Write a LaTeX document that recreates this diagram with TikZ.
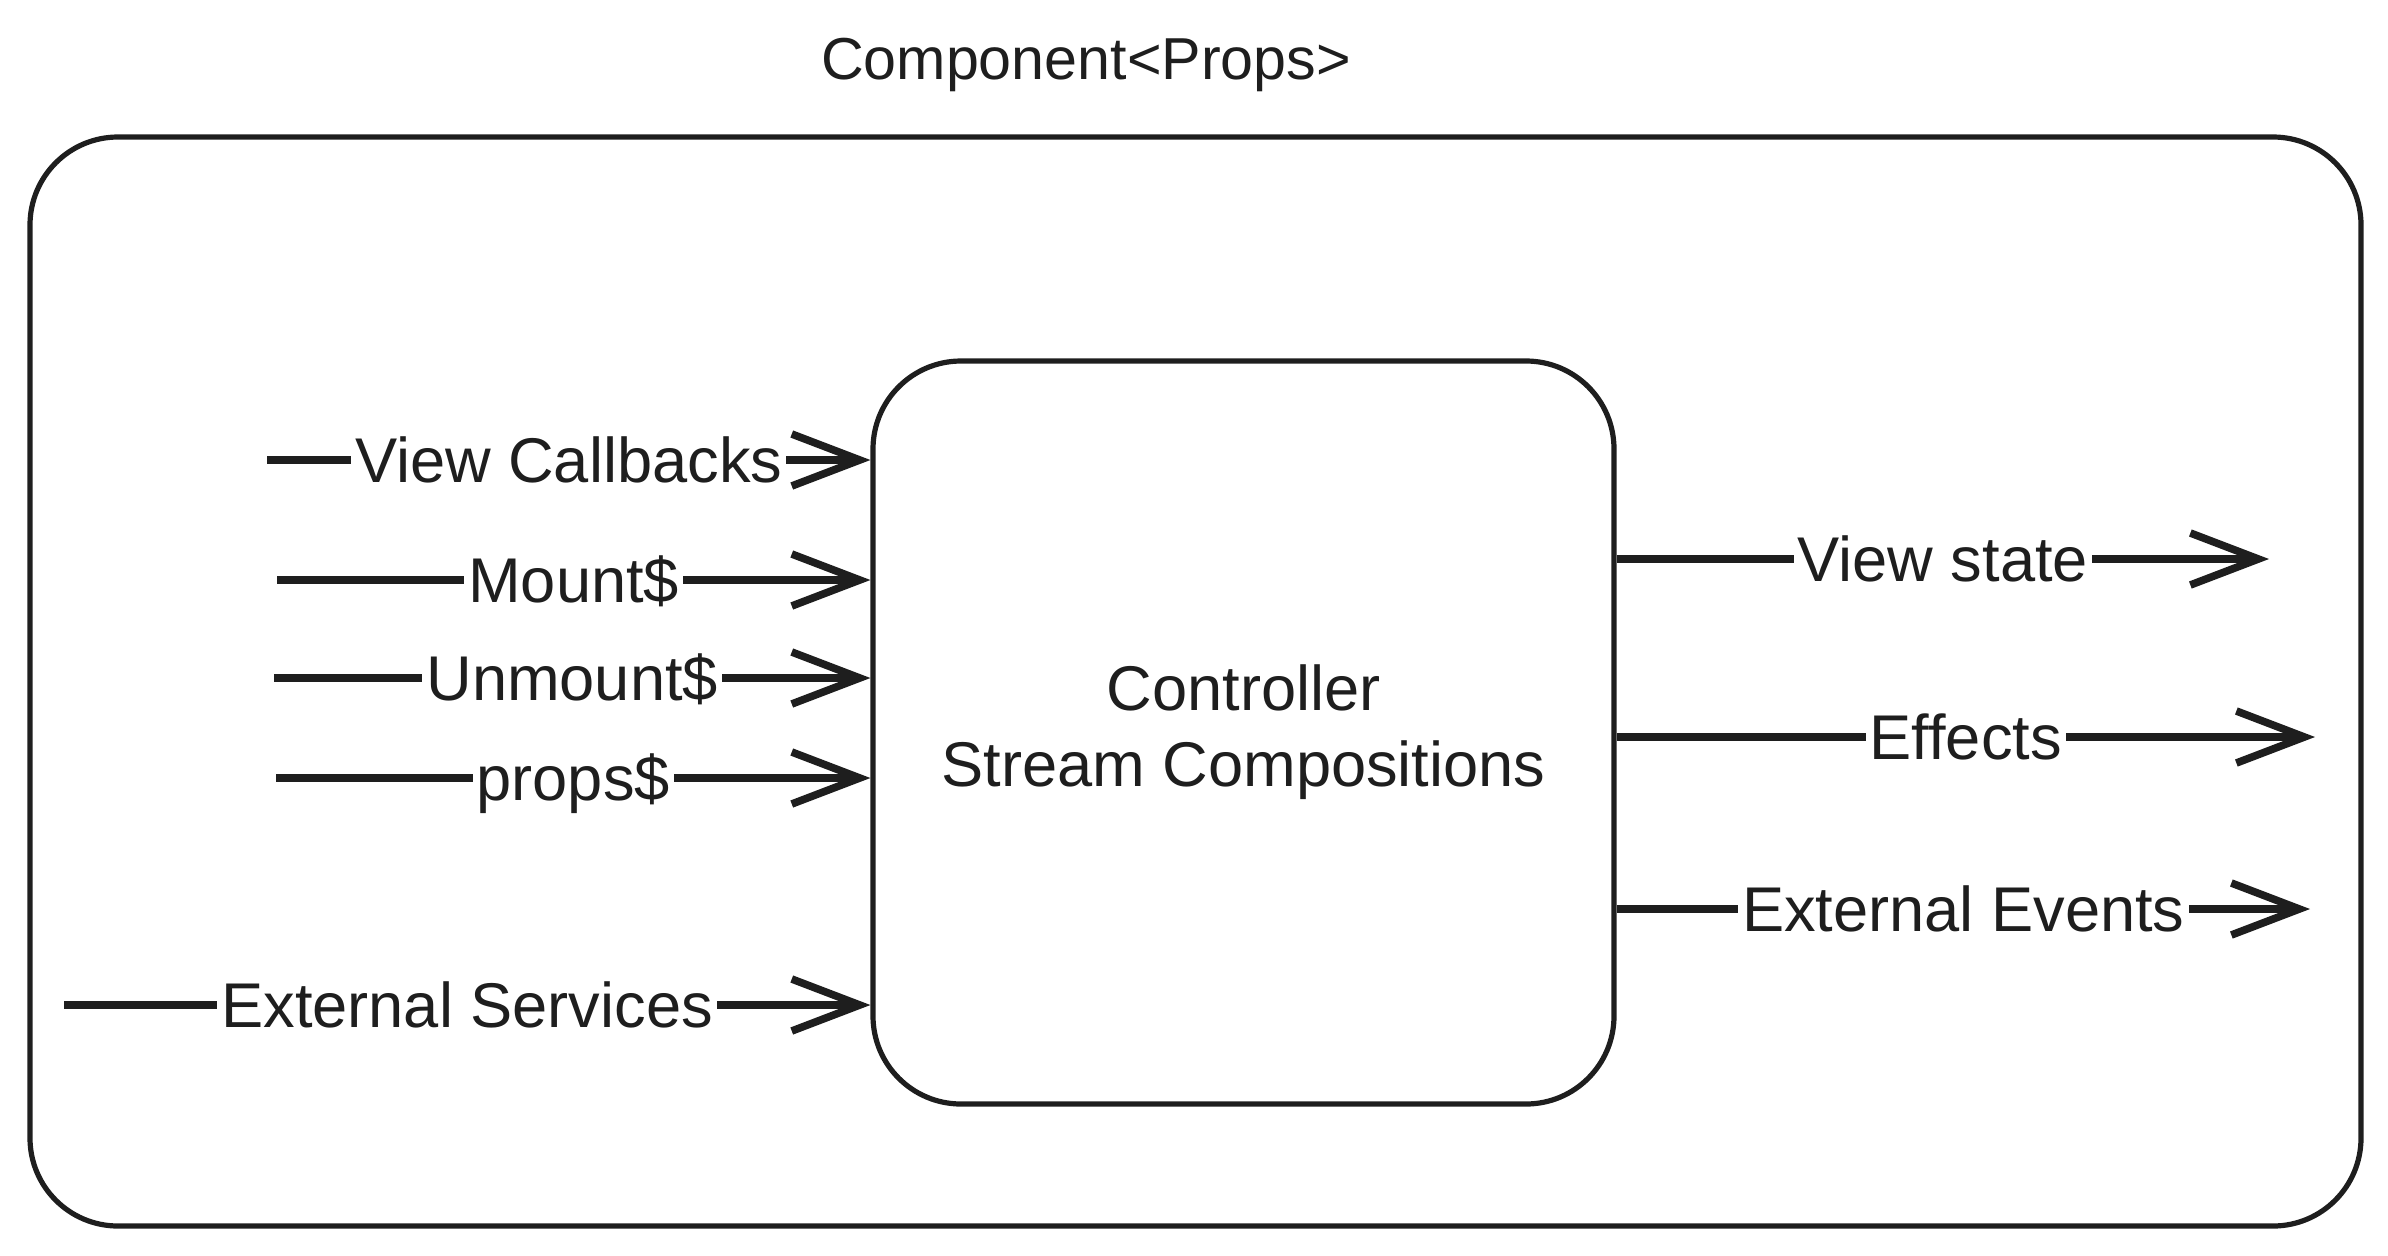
\documentclass[tikz,border=0pt]{standalone}
\usepackage{fontspec}
\setmainfont{Liberation Sans}
\usetikzlibrary{arrows.meta}
\definecolor{ink}{RGB}{30,30,30}
\begin{document}
\begin{tikzpicture}[x=0.25pt,y=-0.25pt,
  boxstyle/.style={draw=ink, line width=1.3pt, rounded corners=22pt, inner sep=0pt},
  flow/.style={draw=ink, line width=1.9pt, -{Straight Barb[length=17pt,width=13pt]}},
  txt/.style={text=ink, font=\fontsize{15.8}{19}\selectfont},
  lbl/.style={txt, fill=white, inner xsep=1pt, inner ysep=1pt, text height=11.4pt, text depth=0pt}]
\useasboundingbox (0,0) rectangle (2388,1255);
\node[txt, font=\fontsize{14.8}{18}\selectfont] (title) at (1086,65) {Component<Props>};
\node[boxstyle, minimum width=582.75pt, minimum height=272.25pt] (outer) at (1195.5,681.5) {};
\node[boxstyle, minimum width=185.25pt, minimum height=185.75pt, align=center, txt] (inner) at (1243.5,732.5) {Controller\\Stream Compositions};
% inputs
\coordinate (vcS) at (267,460);
\coordinate (moS) at (277,580);
\coordinate (umS) at (274,678);
\coordinate (prS) at (276,778);
\coordinate (esS) at (64,1005);
\draw[flow] (vcS) -- (inner.west |- vcS) node[lbl, pos=0.5] {View Callbacks};
\draw[flow] (moS) -- (inner.west |- moS) node[lbl, pos=0.5] {Mount\$};
\draw[flow] (umS) -- (inner.west |- umS) node[lbl, pos=0.5] {Unmount\$};
\draw[flow] (prS) -- (inner.west |- prS) node[lbl, pos=0.5] {props\$};
\draw[flow] (esS) -- (inner.west |- esS) node[lbl, pos=0.5] {External Services};
% outputs
\coordinate (vsE) at (2269,559);
\coordinate (efE) at (2315,737);
\coordinate (eeE) at (2310,909);
\draw[flow] (inner.east |- vsE) -- (vsE) node[lbl, pos=0.5] {View state};
\draw[flow] (inner.east |- efE) -- (efE) node[lbl, pos=0.5] {Effects};
\draw[flow] (inner.east |- eeE) -- (eeE) node[lbl, pos=0.5] {External Events};
\end{tikzpicture}
\end{document}
